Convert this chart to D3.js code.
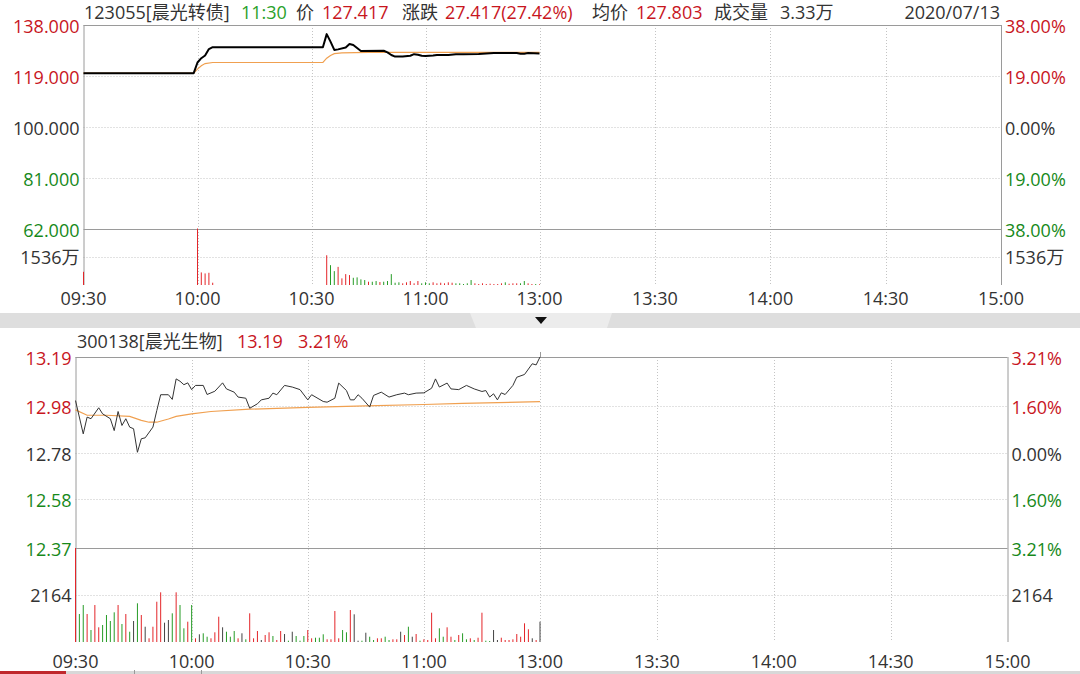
<!doctype html>
<html lang="zh-CN">
<head>
<meta charset="utf-8">
<title>123055 晨光转债 / 300138 晨光生物 分时</title>
<style>
  body { margin: 0; background: #fff; }
  svg { display: block; }
  text { font-family: "Open Sans", "Noto Sans CJK SC", sans-serif; font-size: 18px; fill: #333; }
  .red { fill: #c8161e; }
  .green { fill: #17891a; }
  .lgreen { fill: #2aa12a; }
  .grid { stroke: #c4c4c4; stroke-dasharray: 1,2; }
  .frame { stroke: #9a9a9a; fill: none; }
</style>
</head>
<body>
<svg width="1080" height="674"></svg>
<script src="https://cdn.jsdelivr.net/npm/d3@7/dist/d3.min.js"></script>
<script>
// ---- data ----
var timeTicks = [0, 30, 60, 90, 120, 150, 180, 210, 240];
var timeLabels = ["09:30", "10:00", "10:30", "11:00", "13:00", "13:30", "14:00", "14:30", "15:00"];

// 123055 晨光转债
var bondPriceTicks = [138, 119, 100, 81, 62];
var bondPctLabels = ["38.00%", "19.00%", "0.00%", "19.00%", "38.00%"];
var bondVolTick = 1536;
var bondPriceT = [0, 29, 30, 31, 32, 33, 34, 63, 64, 65, 66, 67, 69, 70, 71, 73, 79, 80, 81, 82, 84, 86, 87, 88, 89, 90, 92, 93, 96, 98, 100, 104, 108, 114, 115, 116, 117, 120];
var bondPrice = [120.0, 120.0, 124.0, 125.6, 126.6, 129.0, 129.7, 129.7, 134.6, 131.8, 128.7, 128.9, 129.6, 130.9, 130.5, 128.3, 128.4, 127.8, 126.8, 126.2, 126.2, 126.5, 127.1, 126.9, 126.5, 126.4, 126.6, 126.8, 126.8, 127.1, 127.1, 127.2, 127.5, 127.5, 127.3, 127.3, 127.5, 127.4];
var bondAvgT = [0, 29, 30, 31, 32, 34, 63, 64, 65, 66, 68, 75, 120];
var bondAvg = [120.0, 120.0, 121.5, 122.8, 123.6, 124.0, 124.0, 125.6, 126.6, 127.3, 127.6, 127.8, 127.8];
var bondVolT = [0, 30, 31, 32, 33, 34].concat(d3.range(64, 121));
var bondVol = [717, 3100, 684, 630, 665, 125,
  1617, 1078, 755, 986, 361, 593, 539, 393, 415, 307, 270, 178, 178, 216, 162, 178, 216, 593, 124, 146,
  92, 146, 216, 92, 216, 92, 146, 92, 146, 92, 124, 92, 146, 124, 92, 92, 54, 92, 270, 92,
  54, 92, 54, 70, 54, 54, 92, 146, 70, 92, 92, 92, 216, 92, 54, 54, 38];
var bondVolDir = "rrrrrr" + "rggrrrrggggrggrgggggrrrrrgggrrrrrrggggg" + "rrrrrrrrgrrrggrrgr";

// 300138 晨光生物
var stockPriceTicks = [13.19, 12.98, 12.78, 12.58, 12.37];
var stockPctLabels = ["3.21%", "1.60%", "0.00%", "1.60%", "3.21%"];
var stockVolTick = 2164;
var stockPriceT = [0, 2, 3, 4, 6, 7, 9, 10, 11, 12, 13, 14, 15, 16, 17, 18, 20, 21, 22, 24, 25, 26, 27, 28, 29, 30, 31, 33, 34, 36, 38, 39, 41, 42, 44, 45, 47, 48, 50, 51, 52, 54, 56, 58, 60, 61, 64, 65, 67, 68, 70, 71, 72, 73, 74, 76, 77, 79, 81, 83, 85, 86, 88, 90, 92, 93, 94, 96, 97, 99, 101, 103, 105, 106, 107, 108, 109, 110, 111, 113, 114, 116, 118, 119, 120];
var stockPrice = [13.003, 12.860, 12.932, 12.925, 12.972, 12.946, 12.925, 12.874, 12.956, 12.896, 12.925, 12.889, 12.882, 12.781, 12.839, 12.843, 12.889, 12.960, 13.028, 13.028, 13.008, 13.096, 13.086, 13.071, 13.079, 13.050, 13.068, 13.068, 13.029, 13.043, 13.079, 13.053, 13.039, 13.018, 13.013, 12.970, 12.989, 13.006, 13.013, 13.035, 13.028, 13.068, 13.061, 13.050, 13.006, 13.028, 12.999, 12.996, 13.013, 13.078, 13.046, 13.006, 13.006, 13.028, 13.013, 12.975, 13.025, 13.039, 13.018, 13.028, 13.035, 13.028, 13.035, 13.036, 13.056, 13.096, 13.061, 13.078, 13.053, 13.050, 13.068, 13.053, 13.042, 13.046, 13.018, 13.032, 13.006, 13.036, 13.029, 13.068, 13.103, 13.115, 13.161, 13.156, 13.190];
var stockAvgT = [0, 3, 8, 14, 17, 19, 21, 24, 26, 30, 35, 45, 60, 75, 90, 100, 120];
var stockAvg = [12.963, 12.940, 12.940, 12.935, 12.918, 12.910, 12.910, 12.924, 12.935, 12.946, 12.956, 12.966, 12.974, 12.980, 12.986, 12.991, 12.998];
var stockVol = [4400, 1289, 1703, 1289, 552, 1703, 677, 783, 1243, 967, 1367, 1703, 829, 1289, 474, 967, 1782, 1243, 704, 170,
  704, 1855, 2288, 889, 1013, 1321, 2288, 1703, 631, 935, 1703, 170, 355, 401, 244, 170, 447, 1165, 677, 474,
  244, 506, 170, 401, 124, 1321, 170, 506, 92, 322, 447, 276, 92, 506, 368, 60, 474, 276, 60, 276,
  552, 170, 198, 198, 355, 124, 124, 1427, 170, 552, 447, 1473, 1275, 60, 60, 428, 244, 92, 170, 170,
  244, 92, 124, 124, 474, 322, 704, 244, 368, 60, 124, 92, 1349, 170, 631, 244, 677, 244, 92, 322,
  401, 124, 170, 92, 198, 1349, 60, 46, 552, 92, 198, 92, 92, 124, 368, 244, 861, 585, 170, 92, 935];
var stockVolDir = "rggrgrrggggrgrgngrnr" + "rrrnngrggrgrnggrrrng" + "ggrngrrrnrrgrrngnggg" + "rrgggrrrrggrnngnggrr" + "ggrrnrgnrgrrrrggrrgr" + "ggrgrrggnnrrrrrrrrnr";

// ---- drawing ----
var svg = d3.select("svg");
var BAR_RED = "#e4262a", BAR_GREEN = "#279c27", BAR_FLAT = "#444", AVG = "#f0a050";

function pairs(t, v) { return t.map(function (d, i) { return [d, v[i]]; }); }
function dirColor(c) { return c === "r" ? BAR_RED : c === "g" ? BAR_GREEN : BAR_FLAT; }
var tickClass = ["red", "red", "", "green", "green"];

function drawPanel(p) {
  var g = svg.append("g");
  var x = d3.scaleLinear().domain([0, 120, 240]).range([p.left, p.mid, p.right]);
  var yP = d3.scaleLinear().domain([p.priceTicks[4], p.priceTicks[0]]).range([p.priceBottom, p.top]);
  var yV = d3.scaleLinear().domain([0, p.volTick * 2]).range([p.volBottom, p.priceBottom]).clamp(true);

  // grid
  g.selectAll(".hg").data(p.priceTicks.slice(1, 4)).enter().append("line")
    .attr("class", "grid").attr("x1", p.left).attr("x2", p.right)
    .attr("y1", function (d) { return Math.round(yP(d)) + 0.5; })
    .attr("y2", function (d) { return Math.round(yP(d)) + 0.5; });
  g.append("line").attr("class", "grid").attr("x1", p.left).attr("x2", p.right)
    .attr("y1", Math.round(yV(p.volTick)) + 0.5).attr("y2", Math.round(yV(p.volTick)) + 0.5);
  g.selectAll(".vg").data(timeTicks.slice(1, 8)).enter().append("line")
    .attr("class", "grid")
    .attr("x1", function (d) { return Math.round(x(d)) + 0.5; })
    .attr("x2", function (d) { return Math.round(x(d)) + 0.5; })
    .attr("y1", p.top).attr("y2", p.volBottom);

  // frame
  g.append("line").attr("class", "frame").attr("x1", p.left).attr("x2", p.right).attr("y1", p.top + 0.5).attr("y2", p.top + 0.5);
  g.append("line").attr("class", "frame").attr("x1", p.left).attr("x2", p.right)
    .attr("y1", Math.round(p.priceBottom) + 0.5).attr("y2", Math.round(p.priceBottom) + 0.5);
  g.append("line").attr("class", "frame").attr("x1", p.left + 0.5).attr("x2", p.left + 0.5).attr("y1", p.top).attr("y2", p.volBottom);
  g.append("line").attr("class", "frame").attr("x1", p.right + 0.5).attr("x2", p.right + 0.5).attr("y1", p.top).attr("y2", p.volBottom);

  // axis labels
  g.selectAll(".ll").data(p.priceTicks).enter().append("text")
    .attr("class", function (d, i) { return tickClass[i]; })
    .attr("x", p.left - 4).attr("y", function (d) { return yP(d) + 1; })
    .attr("text-anchor", "end").attr("dominant-baseline", "central")
    .text(function (d) { return d.toFixed(p.decimals); });
  g.selectAll(".rl").data(p.pctLabels).enter().append("text")
    .attr("class", function (d, i) { return tickClass[i]; })
    .attr("x", p.right + 4).attr("y", function (d, i) { return yP(p.priceTicks[i]) + 1; })
    .attr("dominant-baseline", "central")
    .text(function (d) { return d; });
  g.append("text").attr("x", p.left - 4).attr("y", yV(p.volTick)).attr("text-anchor", "end")
    .attr("dominant-baseline", "central").text(p.volLabel);
  g.append("text").attr("x", p.right + 4).attr("y", yV(p.volTick))
    .attr("dominant-baseline", "central").text(p.volLabel);
  g.selectAll(".tl").data(timeTicks).enter().append("text")
    .attr("x", function (d) { return x(d); }).attr("y", p.timeY)
    .attr("text-anchor", "middle").attr("dominant-baseline", "central")
    .text(function (d, i) { return timeLabels[i]; });

  // volume bars
  g.selectAll(".bar").data(p.volT).enter().append("rect")
    .attr("x", function (d) { return x(d) - 0.5; })
    .attr("width", 1)
    .attr("y", function (d, i) { return yV(p.vol[i]); })
    .attr("height", function (d, i) { return p.volBottom - yV(p.vol[i]); })
    .attr("fill", function (d, i) { return dirColor(p.volDir[i]); });

  // price + average lines
  var line = d3.line().x(function (d) { return x(d[0]); }).y(function (d) { return yP(d[1]); });
  g.append("path").datum(pairs(p.avgT, p.avg)).attr("d", line)
    .attr("fill", "none").attr("stroke", AVG).attr("stroke-width", 1.2);
  g.append("path").datum(pairs(p.priceT, p.price)).attr("d", line)
    .attr("fill", "none").attr("stroke", p.lineColor).attr("stroke-width", p.lineWidth)
    .attr("stroke-linejoin", "round");
  return x;
}

drawPanel({
  left: 83.5, mid: 539.5, right: 1001, top: 25, priceBottom: 228.5, volBottom: 285, timeY: 298,
  priceTicks: bondPriceTicks, pctLabels: bondPctLabels, decimals: 3,
  volTick: bondVolTick, volLabel: bondVolTick + "万",
  priceT: bondPriceT, price: bondPrice, avgT: bondAvgT, avg: bondAvg,
  volT: bondVolT, vol: bondVol, volDir: bondVolDir,
  lineColor: "#000", lineWidth: 2
});

var xs2 = drawPanel({
  left: 75.5, mid: 540, right: 1007.5, top: 357, priceBottom: 548, volBottom: 642, timeY: 661,
  priceTicks: stockPriceTicks, pctLabels: stockPctLabels, decimals: 2,
  volTick: stockVolTick, volLabel: String(stockVolTick),
  priceT: stockPriceT, price: stockPrice, avgT: stockAvgT, avg: stockAvg,
  volT: d3.range(0, 121), vol: stockVol, volDir: stockVolDir,
  lineColor: "#333", lineWidth: 1
});
svg.append("line").attr("class", "frame").attr("x1", Math.round(xs2(120)) + 0.5).attr("x2", Math.round(xs2(120)) + 0.5)
  .attr("y1", 352).attr("y2", 357);

// headers
function header(items, y) {
  svg.append("g").selectAll("text").data(items).enter().append("text")
    .attr("x", function (d) { return d[0]; }).attr("y", y)
    .attr("class", function (d) { return d[2]; })
    .attr("text-anchor", function (d) { return d[3] || "start"; })
    .attr("dominant-baseline", "central")
    .text(function (d) { return d[1]; });
}
header([
  [84, "123055[晨光转债]", ""], [241, "11:30", "lgreen"], [296, "价", ""], [322, "127.417", "red"],
  [402, "涨跌", ""], [445, "27.417(27.42%)", "red"], [592, "均价", ""], [636, "127.803", "red"],
  [714, "成交量", ""], [780, "3.33万", ""], [1000, "2020/07/13", "", "end"]
], 12);
header([[77, "300138[晨光生物]", ""], [237, "13.19", "red"], [298, "3.21%", "red"]], 341);

// separator band
svg.append("rect").attr("x", 0).attr("y", 313).attr("width", 1080).attr("height", 15).attr("fill", "#dedede");
svg.append("path").attr("d", "M470,313L612,313L607,328L476,328Z").attr("fill", "#ececec");
svg.append("path").attr("d", "M535,317L547,317L541,324Z").attr("fill", "#111");

// bottom tab strip
svg.append("rect").attr("x", 0).attr("y", 671).attr("width", 1080).attr("height", 3).attr("fill", "#d8d8d8");
svg.append("rect").attr("x", 0).attr("y", 671).attr("width", 66).attr("height", 3).attr("fill", "#c0282d");
svg.selectAll(".tab").data([134, 201]).enter().append("line")
  .attr("x1", function (d) { return d + 0.5; }).attr("x2", function (d) { return d + 0.5; })
  .attr("y1", 670).attr("y2", 674).attr("stroke", "#999");
</script>
</body>
</html>
